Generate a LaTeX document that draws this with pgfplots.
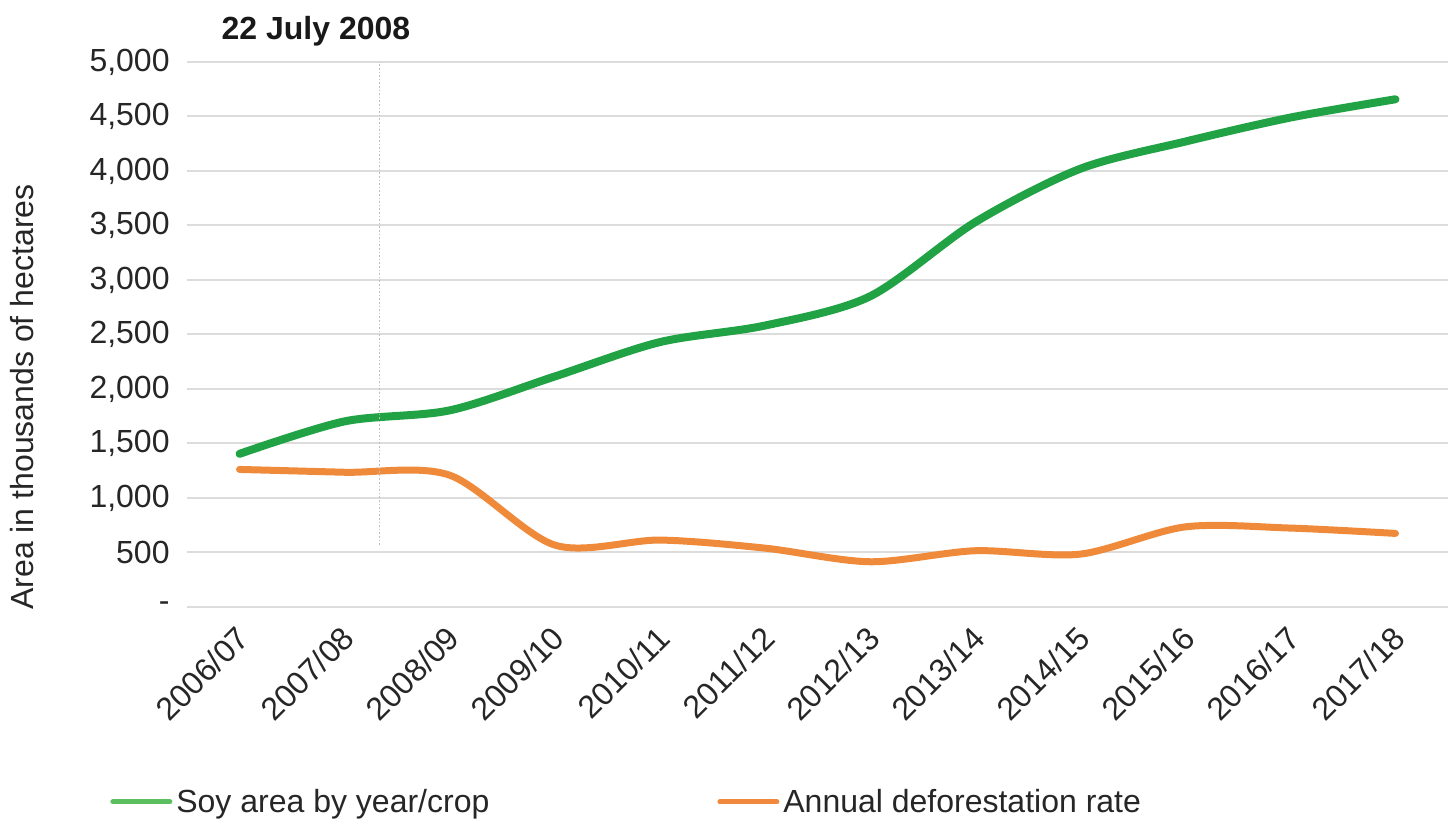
\documentclass[border=0pt]{standalone}
\usepackage{pgfplots}
\pgfplotsset{compat=1.18}
\usepackage{fontspec}
\setmainfont{Liberation Sans}
\definecolor{soygreen}{HTML}{21A244}
\definecolor{defor}{HTML}{F08A3B}
\definecolor{soyleg}{HTML}{5CBF5F}
\definecolor{deforleg}{HTML}{F0883E}
\definecolor{gridc}{HTML}{DCDCDC}
\definecolor{txt}{HTML}{262626}
\begin{document}
\begin{tikzpicture}
\begin{axis}[
  at={(0,0)}, anchor=south west,
  scale only axis, width=630.5pt, height=272.5pt,
  xmin=-0.5, xmax=11.5, ymin=0, ymax=5000,
  axis line style={draw=none},
  major tick length=0pt,
  ymajorgrids, grid style={gridc, line width=1pt},
  xtick={0,1,2,3,4,5,6,7,8,9,10,11},
  xticklabels={2006/07,2007/08,2008/09,2009/10,2010/11,2011/12,2012/13,2013/14,2014/15,2015/16,2016/17,2017/18},
  ytick={0,500,1000,1500,2000,2500,3000,3500,4000,4500,5000},
  yticklabels={-,500,{1,000},{1,500},{2,000},{2,500},{3,000},{3,500},{4,000},{4,500},{5,000}},
  tick label style={font=\fontsize{16}{19}\selectfont, text=txt},
  xticklabel style={rotate=45, anchor=east, inner sep=0pt, xshift=-7.6pt, yshift=-10.4pt},
  yticklabel style={anchor=east, inner sep=0pt, xshift=-8.5pt},
  ylabel={Area in thousands of hectares},
  ylabel style={at={(axis description cs:-0.1221,0.3853)}, anchor=base, font=\fontsize{16}{19}\selectfont, text=txt},
  legend columns=2,
  legend style={at={(axis description cs:-0.0611,-0.3578)}, anchor=west, draw=none, fill=none,
    font=\fontsize{16}{19}\selectfont, text=txt, inner sep=0pt,
    nodes={inner sep=2pt},
    /tikz/every even column/.append style={column sep=112pt}},
  clip=false,
]
\addplot[soygreen, line width=4pt, line cap=round, smooth,
  legend image code/.code={\draw[soyleg, line width=2.5pt, line cap=round] (0pt,0pt) -- (28.5pt,0pt);}]
  coordinates {(0,1405) (1,1703) (2,1804) (3,2115) (4,2430) (5,2582) (6,2850) (7,3530) (8,4020) (9,4270) (10,4490) (11,4658)};
\addlegendentry{Soy area by year/crop}
\addplot[defor, line width=3.5pt, line cap=round, smooth,
  legend image code/.code={\draw[deforleg, line width=2.5pt, line cap=round] (0pt,0pt) -- (28.5pt,0pt);}]
  coordinates {(0,1262) (1,1236) (2,1209) (3,568) (4,614) (5,540) (6,415) (7,516) (8,485) (9,735) (10,724) (11,675)};
\addlegendentry{Annual deforestation rate}
\addplot[gray!50, densely dotted, line width=0.8pt, forget plot] coordinates {(1.331,570) (1.331,5000)};
\end{axis}
\node[font=\bfseries\fontsize{16}{19}\selectfont, anchor=base, text=black!90] at (64.5pt,283.75pt) {22 July 2008};
\pgfresetboundingbox
\path (-93.5pt,-107.5pt) rectangle (632pt,303.5pt);
\end{tikzpicture}
\end{document}
